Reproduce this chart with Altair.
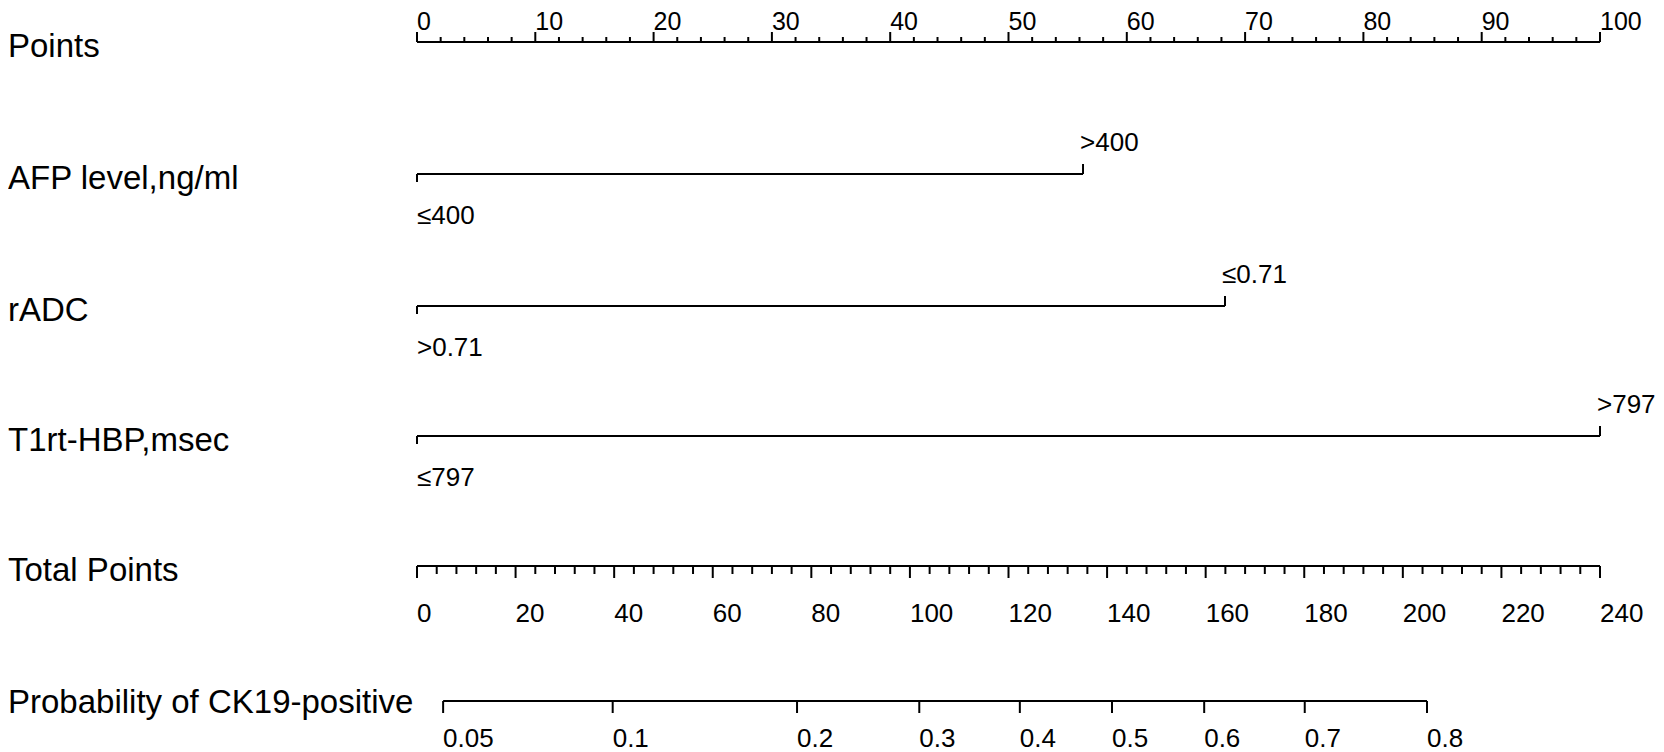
import altair as alt
import pandas as pd

# ---------------- data ----------------
points_ticks = [0, 10, 20, 30, 40, 50, 60, 70, 80, 90, 100]
points_minor = [v for v in range(0, 101, 2) if v % 10 != 0]

var_names = ["AFP level,ng/ml", "rADC", "T1rt-HBP,msec"]
var_levels = [["≤400", ">400"], [">0.71", "≤0.71"], ["≤797", ">797"]]
var_points = [[0, 56.3], [0, 68.3], [0, 100]]

total_ticks = [0, 20, 40, 60, 80, 100, 120, 140, 160, 180, 200, 220, 240]
total_minor = [v for v in range(0, 241, 4) if v % 20 != 0]

prob_labels = ["0.05", "0.1", "0.2", "0.3", "0.4", "0.5", "0.6", "0.7", "0.8"]
prob_total_pos = [5.3, 39.7, 77.1, 101.9, 122.3, 141.0, 159.7, 180.1, 204.9]

row_titles = ["Points", "AFP level,ng/ml", "rADC", "T1rt-HBP,msec",
              "Total Points", "Probability of CK19-positive"]

# ---------------- layout (page pixels) ----------------
M = 8  # page margin
def py(v):
    return v - M

X_RANGE = [417 - M, 1600 - M]
FONT = "Liberation Sans"
LW = 2
LABEL_FS = 33
TICK_FS = 26

points_line_y = 42
var_line_y = [174, 306, 436]
total_line_y = 566
prob_line_y = 701
title_baseline = [57, 189, 321, 451, 581, 713]


def xq(field, domain):
    return alt.X(f"{field}:Q", scale=alt.Scale(domain=domain, range=X_RANGE), axis=None)


layers = []

# row titles
df_titles = pd.DataFrame({"t": row_titles, "yb": [py(v) for v in title_baseline]})
layers.append(
    alt.Chart(df_titles).mark_text(align="left", baseline="alphabetic", font=FONT,
                                   fontSize=LABEL_FS, color="black")
    .encode(x=alt.value(0),
            y=alt.Y("yb:Q", scale=alt.Scale(domain=[0, 744], range=[0, 744]), axis=None),
            text="t:N")
)

# ---- Points axis ----
PD = [0, 100]
layers.append(alt.Chart(pd.DataFrame({"a": [PD[0]], "b": [PD[1]]})).mark_rule(
    strokeWidth=LW, color="black").encode(x=xq("a", PD), x2="b:Q", y=alt.value(py(points_line_y))))
layers.append(alt.Chart(pd.DataFrame({"v": points_ticks})).mark_rule(
    strokeWidth=LW, color="black").encode(x=xq("v", PD), y=alt.value(py(points_line_y - 10)),
                                           y2=alt.value(py(points_line_y))))
layers.append(alt.Chart(pd.DataFrame({"v": points_minor})).mark_rule(
    strokeWidth=LW, color="black").encode(x=xq("v", PD), y=alt.value(py(points_line_y - 5)),
                                           y2=alt.value(py(points_line_y))))
layers.append(alt.Chart(pd.DataFrame({"v": points_ticks})).mark_text(
    align="left", baseline="alphabetic", font=FONT, fontSize=25, color="black")
    .encode(x=xq("v", PD), y=alt.value(py(30)), text="v:Q"))

# ---- variable rows ----
for i, (levels, pts) in enumerate(zip(var_levels, var_points)):
    ly = var_line_y[i]
    layers.append(alt.Chart(pd.DataFrame({"a": [min(pts)], "b": [max(pts)]})).mark_rule(
        strokeWidth=LW, color="black").encode(x=xq("a", PD), x2="b:Q", y=alt.value(py(ly))))
    # low level: tick down, label below
    layers.append(alt.Chart(pd.DataFrame({"v": [pts[0]], "t": [levels[0]]})).mark_rule(
        strokeWidth=LW, color="black").encode(x=xq("v", PD), y=alt.value(py(ly)),
                                               y2=alt.value(py(ly + 8))))
    layers.append(alt.Chart(pd.DataFrame({"v": [pts[0]], "t": [levels[0]]})).mark_text(
        align="left", baseline="alphabetic", font=FONT, fontSize=TICK_FS, color="black")
        .encode(x=xq("v", PD), y=alt.value(py(ly + 50)), text="t:N"))
    # high level: tick up, label above
    layers.append(alt.Chart(pd.DataFrame({"v": [pts[1]], "t": [levels[1]]})).mark_rule(
        strokeWidth=LW, color="black").encode(x=xq("v", PD), y=alt.value(py(ly - 10)),
                                               y2=alt.value(py(ly))))
    layers.append(alt.Chart(pd.DataFrame({"v": [pts[1]], "t": [levels[1]]})).mark_text(
        align="left", baseline="alphabetic", font=FONT, fontSize=TICK_FS, color="black", dx=-3)
        .encode(x=xq("v", PD), y=alt.value(py(ly - 23)), text="t:N"))

# ---- Total points axis ----
TD = [0, 240]
layers.append(alt.Chart(pd.DataFrame({"a": [TD[0]], "b": [TD[1]]})).mark_rule(
    strokeWidth=LW, color="black").encode(x=xq("a", TD), x2="b:Q", y=alt.value(py(total_line_y))))
layers.append(alt.Chart(pd.DataFrame({"v": total_ticks})).mark_rule(
    strokeWidth=LW, color="black").encode(x=xq("v", TD), y=alt.value(py(total_line_y)),
                                           y2=alt.value(py(total_line_y + 12))))
layers.append(alt.Chart(pd.DataFrame({"v": total_minor})).mark_rule(
    strokeWidth=LW, color="black").encode(x=xq("v", TD), y=alt.value(py(total_line_y)),
                                           y2=alt.value(py(total_line_y + 8))))
layers.append(alt.Chart(pd.DataFrame({"v": total_ticks})).mark_text(
    align="left", baseline="alphabetic", font=FONT, fontSize=TICK_FS, color="black")
    .encode(x=xq("v", TD), y=alt.value(py(total_line_y + 56)), text="v:Q"))

# ---- Probability axis ----
df_prob = pd.DataFrame({"v": prob_total_pos, "t": prob_labels})
layers.append(alt.Chart(pd.DataFrame({"a": [prob_total_pos[0]], "b": [prob_total_pos[-1]]})).mark_rule(
    strokeWidth=LW, color="black").encode(x=xq("a", TD), x2="b:Q", y=alt.value(py(prob_line_y))))
layers.append(alt.Chart(df_prob).mark_rule(strokeWidth=LW, color="black").encode(
    x=xq("v", TD), y=alt.value(py(prob_line_y)), y2=alt.value(py(prob_line_y + 12))))
layers.append(alt.Chart(df_prob).mark_text(
    align="left", baseline="alphabetic", font=FONT, fontSize=TICK_FS, color="black")
    .encode(x=xq("v", TD), y=alt.value(py(prob_line_y + 46)), text="t:N"))

chart = alt.layer(*layers).resolve_scale(x="independent").properties(
    width=1648, height=744, padding=0,
    autosize=alt.AutoSizeParams(type="none"),
    background="white",
).configure_view(stroke=None)

chart.save("out.html", embed_options={"renderer": "svg", "actions": False})
